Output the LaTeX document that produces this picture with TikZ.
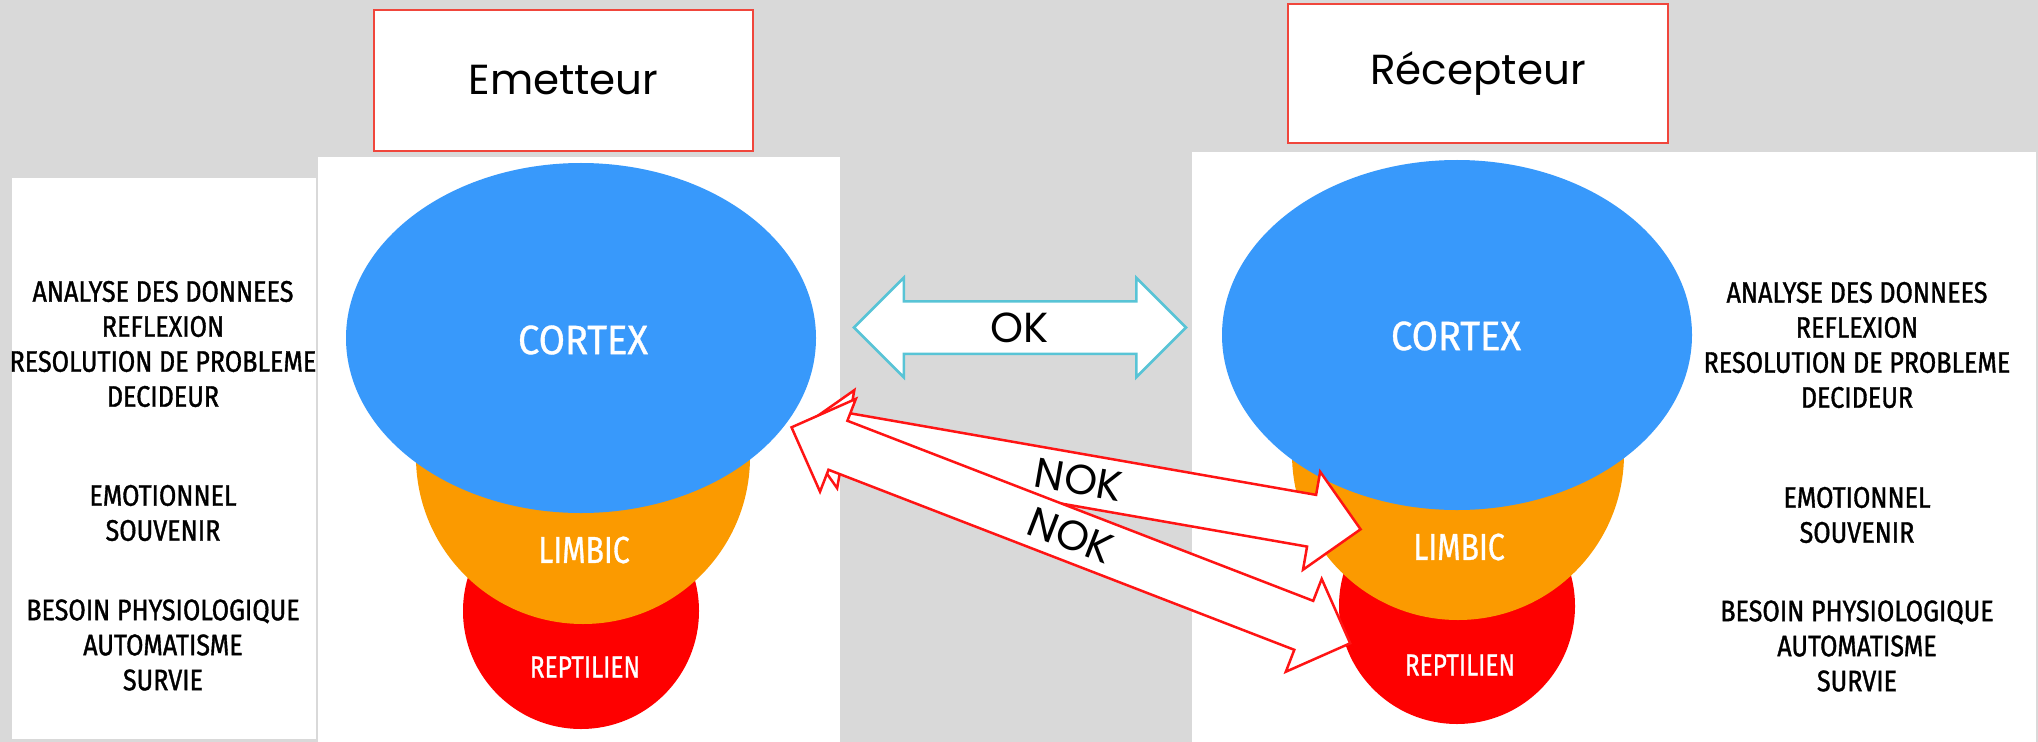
\documentclass[tikz,border=0pt]{standalone}
\usepackage{fontspec}
\setmainfont{Poppins}
\newfontfamily\cond{Fira Sans}[FakeStretch=0.845, FakeBold=1.2]
\newfontfamily\condwide{Fira Sans}[FakeStretch=0.93, FakeBold=0.8]
\newfontfamily\condlab{Fira Sans}[FakeStretch=0.8, FakeBold=0.8]
\usetikzlibrary{shapes.arrows,shapes.geometric,calc}
\definecolor{bggrey}{RGB}{217,217,217}
\definecolor{cortexblue}{RGB}{56,153,251}
\definecolor{limbicorange}{RGB}{251,154,0}
\definecolor{reptred}{RGB}{254,0,0}
\definecolor{boxred}{RGB}{240,70,60}
\definecolor{okcyan}{RGB}{88,196,214}
\definecolor{nokred}{RGB}{255,20,20}
\tikzset{
  panel/.style={fill=white, draw=none},
  titlebox/.style={draw=boxred, line width=2.5bp, fill=white, inner sep=0pt, font=\fontsize{42bp}{42bp}\selectfont},
  brainpart/.style={inner sep=0pt, outer sep=0pt, draw=none},
  brainlabel/.style={text=white, inner sep=0pt},
  sidetext/.style={align=center, inner sep=0pt, font=\cond\fontsize{29.7bp}{35bp}\selectfont},
  blockarrow/.style={shape=double arrow, double arrow head extend=23.5bp, fill=white,
     line width=2.5bp, inner xsep=0pt, inner ysep=0pt, text height=39.7bp, text depth=10.3bp,
     font=\fontsize{42bp}{42bp}\selectfont},
  okarrow/.style={blockarrow, draw=okcyan},
  nokarrow/.style={blockarrow, draw=nokred}
}
\begin{document}
\begin{tikzpicture}[x=1bp,y=-1bp]
\useasboundingbox (0,0) rectangle (2038,742);
\fill[bggrey] (0,0) rectangle (2038,742);
% panels
\fill[panel] (12,178) rectangle (316,739);
\fill[panel] (318,157) rectangle (840,742);
\fill[panel] (1192,152) rectangle (2036,742);
% title boxes
\node[titlebox, minimum width=379bp, minimum height=141bp] (emetteur) at (563.5,80.5) {Emetteur};
\node[titlebox, minimum width=380bp, minimum height=139bp] (recepteur) at (1478,73.5) {Récepteur};
% emetteur brain
\node[brainpart, circle, fill=reptred, minimum size=236bp] (erep) at (581,611) {};
\node[brainpart, circle, fill=limbicorange, minimum size=334bp] (elim) at (583,457) {};
\node[brainpart, ellipse, fill=cortexblue, minimum width=470bp, minimum height=350bp] (ecor) at (581,338) {};
\node[brainlabel, font=\condwide\fontsize{41bp}{41bp}\selectfont] (ecortxt) at (583,340) {CORTEX};
\node[brainlabel, font=\condlab\fontsize{37.7bp}{37.7bp}\selectfont] (elimtxt) at (584,550) {LIMBIC};
\node[brainlabel, font=\condlab\fontsize{30.5bp}{30.5bp}\selectfont] (ereptxt) at (585,667) {REPTILIEN};
% recepteur brain
\node[brainpart, circle, fill=reptred, minimum size=236bp] (rrep) at (1457,606) {};
\node[brainpart, circle, fill=limbicorange, minimum size=332bp] (rlim) at (1458,454) {};
\node[brainpart, ellipse, fill=cortexblue, minimum width=470bp, minimum height=350bp] (rcor) at (1457,335) {};
\node[brainlabel, font=\condwide\fontsize{41bp}{41bp}\selectfont] (rcortxt) at (1456,336) {CORTEX};
\node[brainlabel, font=\condlab\fontsize{37.7bp}{37.7bp}\selectfont] (rlimtxt) at (1459,547) {LIMBIC};
\node[brainlabel, font=\condlab\fontsize{30.5bp}{30.5bp}\selectfont] (rreptxt) at (1460,665) {REPTILIEN};
% side texts
\node[sidetext] (lcor) at (163,344) {ANALYSE DES DONNEES\\REFLEXION\\RESOLUTION DE PROBLEME\\DECIDEUR};
\node[sidetext] (llim) at (163,513) {EMOTIONNEL\\SOUVENIR};
\node[sidetext] (lrep) at (163,645) {BESOIN PHYSIOLOGIQUE\\AUTOMATISME\\SURVIE};
\node[sidetext] (rcortx) at (1857,345) {ANALYSE DES DONNEES\\REFLEXION\\RESOLUTION DE PROBLEME\\DECIDEUR};
\node[sidetext] (rlimtx) at (1857,515) {EMOTIONNEL\\SOUVENIR};
\node[sidetext] (rreptx) at (1857,646) {BESOIN PHYSIOLOGIQUE\\AUTOMATISME\\SURVIE};
% arrow end points
\coordinate (okL) at (854,327.5);
\coordinate (okR) at (1186,327.5);
\coordinate (n1L) at (796.7,430.6);
\coordinate (n1R) at (1360.6,529.3);
\coordinate (n2L) at (791.5,427.3);
\coordinate (n2R) at (1350.2,643.3);
% OK arrow
\path let \p1=(okL), \p2=(okR), \n1={atan2(\y2-\y1,\x2-\x1)}, \n2={veclen(\x2-\x1,\y2-\y1)} in
  node[okarrow, rotate=\n1, minimum height=\n2] (ok) at ($(okL)!0.5!(okR)$) {OK};
% NOK arrows
\path let \p1=(n1L), \p2=(n1R), \n1={atan2(\y2-\y1,\x2-\x1)}, \n2={veclen(\x2-\x1,\y2-\y1)} in
  node[nokarrow, rotate=\n1, minimum height=\n2] (nok1) at ($(n1L)!0.5!(n1R)$) {NOK};
\path let \p1=(n2L), \p2=(n2R), \n1={atan2(\y2-\y1,\x2-\x1)}, \n2={veclen(\x2-\x1,\y2-\y1)} in
  node[nokarrow, rotate=\n1, minimum height=\n2] (nok2) at ($(n2L)!0.5!(n2R)$) {NOK};
\end{tikzpicture}
\end{document}
